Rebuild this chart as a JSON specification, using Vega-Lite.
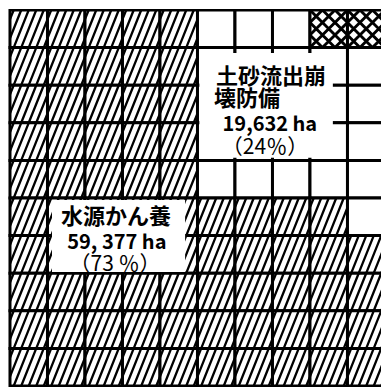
{
"$schema": "https://vega.github.io/schema/vega-lite/v6.json",
"width": 373, "height": 378,
"autosize": {"type": "none"},
"padding": {"left": 8, "top": 9, "right": 0, "bottom": 0},
"background": "white",
"config": {"view": {"stroke": null}},
"datasets": {
"cells": [
{"c":0,"r":0,"k":"h"},{"c":1,"r":0,"k":"h"},{"c":2,"r":0,"k":"h"},{"c":3,"r":0,"k":"h"},{"c":4,"r":0,"k":"h"},{"c":5,"r":0,"k":"w"},{"c":6,"r":0,"k":"w"},{"c":7,"r":0,"k":"w"},{"c":8,"r":0,"k":"x"},{"c":9,"r":0,"k":"x"},
{"c":0,"r":1,"k":"h"},{"c":1,"r":1,"k":"h"},{"c":2,"r":1,"k":"h"},{"c":3,"r":1,"k":"h"},{"c":4,"r":1,"k":"h"},{"c":5,"r":1,"k":"w"},{"c":6,"r":1,"k":"w"},{"c":7,"r":1,"k":"w"},{"c":8,"r":1,"k":"w"},{"c":9,"r":1,"k":"w"},
{"c":0,"r":2,"k":"h"},{"c":1,"r":2,"k":"h"},{"c":2,"r":2,"k":"h"},{"c":3,"r":2,"k":"h"},{"c":4,"r":2,"k":"h"},{"c":5,"r":2,"k":"w"},{"c":6,"r":2,"k":"w"},{"c":7,"r":2,"k":"w"},{"c":8,"r":2,"k":"w"},{"c":9,"r":2,"k":"w"},
{"c":0,"r":3,"k":"h"},{"c":1,"r":3,"k":"h"},{"c":2,"r":3,"k":"h"},{"c":3,"r":3,"k":"h"},{"c":4,"r":3,"k":"h"},{"c":5,"r":3,"k":"w"},{"c":6,"r":3,"k":"w"},{"c":7,"r":3,"k":"w"},{"c":8,"r":3,"k":"w"},{"c":9,"r":3,"k":"w"},
{"c":0,"r":4,"k":"h"},{"c":1,"r":4,"k":"h"},{"c":2,"r":4,"k":"h"},{"c":3,"r":4,"k":"h"},{"c":4,"r":4,"k":"h"},{"c":5,"r":4,"k":"w"},{"c":6,"r":4,"k":"w"},{"c":7,"r":4,"k":"w"},{"c":8,"r":4,"k":"w"},{"c":9,"r":4,"k":"w"},
{"c":0,"r":5,"k":"h"},{"c":1,"r":5,"k":"h"},{"c":2,"r":5,"k":"h"},{"c":3,"r":5,"k":"h"},{"c":4,"r":5,"k":"h"},{"c":5,"r":5,"k":"h"},{"c":6,"r":5,"k":"h"},{"c":7,"r":5,"k":"h"},{"c":8,"r":5,"k":"h"},{"c":9,"r":5,"k":"w"},
{"c":0,"r":6,"k":"h"},{"c":1,"r":6,"k":"h"},{"c":2,"r":6,"k":"h"},{"c":3,"r":6,"k":"h"},{"c":4,"r":6,"k":"h"},{"c":5,"r":6,"k":"h"},{"c":6,"r":6,"k":"h"},{"c":7,"r":6,"k":"h"},{"c":8,"r":6,"k":"h"},{"c":9,"r":6,"k":"h"},
{"c":0,"r":7,"k":"h"},{"c":1,"r":7,"k":"h"},{"c":2,"r":7,"k":"h"},{"c":3,"r":7,"k":"h"},{"c":4,"r":7,"k":"h"},{"c":5,"r":7,"k":"h"},{"c":6,"r":7,"k":"h"},{"c":7,"r":7,"k":"h"},{"c":8,"r":7,"k":"h"},{"c":9,"r":7,"k":"h"},
{"c":0,"r":8,"k":"h"},{"c":1,"r":8,"k":"h"},{"c":2,"r":8,"k":"h"},{"c":3,"r":8,"k":"h"},{"c":4,"r":8,"k":"h"},{"c":5,"r":8,"k":"h"},{"c":6,"r":8,"k":"h"},{"c":7,"r":8,"k":"h"},{"c":8,"r":8,"k":"h"},{"c":9,"r":8,"k":"h"},
{"c":0,"r":9,"k":"h"},{"c":1,"r":9,"k":"h"},{"c":2,"r":9,"k":"h"},{"c":3,"r":9,"k":"h"},{"c":4,"r":9,"k":"h"},{"c":5,"r":9,"k":"h"},{"c":6,"r":9,"k":"h"},{"c":7,"r":9,"k":"h"},{"c":8,"r":9,"k":"h"},{"c":9,"r":9,"k":"h"}
],
"boxes": [
{"x":5.05,"x2":8.61,"y":1.14,"y2":3.93},
{"x":1.12,"x2":4.67,"y":5.05,"y2":6.97}
],
"labels": [
{"t":"土砂流出崩","x":6.96,"y":1.77,"g":"name"},
{"t":"壊防備","x":6.32,"y":2.37,"g":"name"},
{"t":"19,632 ha","x":6.93,"y":3.07,"g":"num"},
{"t":"（24％）","x":6.80,"y":3.66,"g":"pct"},
{"t":"水源かん養","x":2.83,"y":5.50,"g":"name"},
{"t":"59, 377 ha","x":2.85,"y":6.19,"g":"num"},
{"t":"（73 ％）","x":2.80,"y":6.77,"g":"pct"}
]
},
"layer": [
{
"data": {"name": "cells"},
"transform": [{"calculate": "datum.c+1", "as": "c2"}, {"calculate": "datum.r+1", "as": "r2"}],
"mark": {"type": "rect", "fill": "white", "stroke": "black", "strokeWidth": 3, "clip": true},
"encoding": {
"x": {"field": "c", "type": "quantitative", "scale": {"domain": [-0.053, 9.894], "nice": false, "zero": false}, "axis": null},
"x2": {"field": "c2"},
"y": {"field": "r", "type": "quantitative", "scale": {"domain": [-0.027, 10.027], "nice": false, "zero": false, "reverse": true}, "axis": null},
"y2": {"field": "r2"}
}
},
{
"data": {"name": "cells"},
"transform": [{"filter": "datum.k === 'h'"}, {"calculate": "datum.c+0.5", "as": "cx"}, {"calculate": "datum.r+0.5", "as": "cy"}],
"mark": {"type": "point", "shape": "M-1,-0.5L-0.8,-1M-1,0.5L-0.4,-1M-0.8,1L0,-1M-0.4,1L0.4,-1M0,1L0.8,-1M0.4,1L1,-0.5M0.8,1L1,0.5", "size": 1410, "filled": false, "stroke": "black", "strokeWidth": 2.3, "opacity": 1, "clip": true},
"encoding": {
"x": {"field": "cx", "type": "quantitative", "scale": {"domain": [-0.053, 9.894], "nice": false, "zero": false}, "axis": null},
"y": {"field": "cy", "type": "quantitative", "scale": {"domain": [-0.027, 10.027], "nice": false, "zero": false, "reverse": true}, "axis": null}
}
},
{
"data": {"name": "cells"},
"transform": [{"filter": "datum.k === 'x'"}, {"calculate": "datum.c+0.5", "as": "cx"}, {"calculate": "datum.r+0.5", "as": "cy"}],
"mark": {"type": "point", "shape": "M-1,-0.333L-0.333,-1M-1,0.333L0.333,-1M-1,1L1,-1M-0.333,1L1,-0.333M0.333,1L1,0.333M-1,0.333L-0.333,1M-1,-0.333L0.333,1M-1,-1L1,1M-0.333,-1L1,0.333M0.333,-1L1,-0.333", "size": 1410, "filled": false, "stroke": "black", "strokeWidth": 2.9, "opacity": 1, "clip": true},
"encoding": {
"x": {"field": "cx", "type": "quantitative", "scale": {"domain": [-0.053, 9.894], "nice": false, "zero": false}, "axis": null},
"y": {"field": "cy", "type": "quantitative", "scale": {"domain": [-0.027, 10.027], "nice": false, "zero": false, "reverse": true}, "axis": null}
}
},
{
"data": {"name": "boxes"},
"mark": {"type": "rect", "fill": "white", "stroke": null, "clip": true},
"encoding": {
"x": {"field": "x", "type": "quantitative", "scale": {"domain": [-0.053, 9.894], "nice": false, "zero": false}, "axis": null},
"x2": {"field": "x2"},
"y": {"field": "y", "type": "quantitative", "scale": {"domain": [-0.027, 10.027], "nice": false, "zero": false, "reverse": true}, "axis": null},
"y2": {"field": "y2"}
}
},
{
"data": {"name": "labels"},
"transform": [{"filter": "datum.g === 'name'"}],
"mark": {"type": "text", "font": "Noto Sans CJK JP", "fontWeight": "bold", "fontSize": 22, "align": "center", "baseline": "middle", "color": "black"},
"encoding": {
"x": {"field": "x", "type": "quantitative", "scale": {"domain": [-0.053, 9.894], "nice": false, "zero": false}, "axis": null},
"y": {"field": "y", "type": "quantitative", "scale": {"domain": [-0.027, 10.027], "nice": false, "zero": false, "reverse": true}, "axis": null},
"text": {"field": "t"}
}
},
{
"data": {"name": "labels"},
"transform": [{"filter": "datum.g === 'num'"}],
"mark": {"type": "text", "font": "Noto Sans CJK JP", "fontWeight": "bold", "fontSize": 20, "align": "center", "baseline": "middle", "color": "black"},
"encoding": {
"x": {"field": "x", "type": "quantitative", "scale": {"domain": [-0.053, 9.894], "nice": false, "zero": false}, "axis": null},
"y": {"field": "y", "type": "quantitative", "scale": {"domain": [-0.027, 10.027], "nice": false, "zero": false, "reverse": true}, "axis": null},
"text": {"field": "t"}
}
},
{
"data": {"name": "labels"},
"transform": [{"filter": "datum.g === 'pct'"}],
"mark": {"type": "text", "font": "Noto Sans CJK JP", "fontWeight": "normal", "fontSize": 21, "align": "center", "baseline": "middle", "color": "black"},
"encoding": {
"x": {"field": "x", "type": "quantitative", "scale": {"domain": [-0.053, 9.894], "nice": false, "zero": false}, "axis": null},
"y": {"field": "y", "type": "quantitative", "scale": {"domain": [-0.027, 10.027], "nice": false, "zero": false, "reverse": true}, "axis": null},
"text": {"field": "t"}
}
}
]
}
